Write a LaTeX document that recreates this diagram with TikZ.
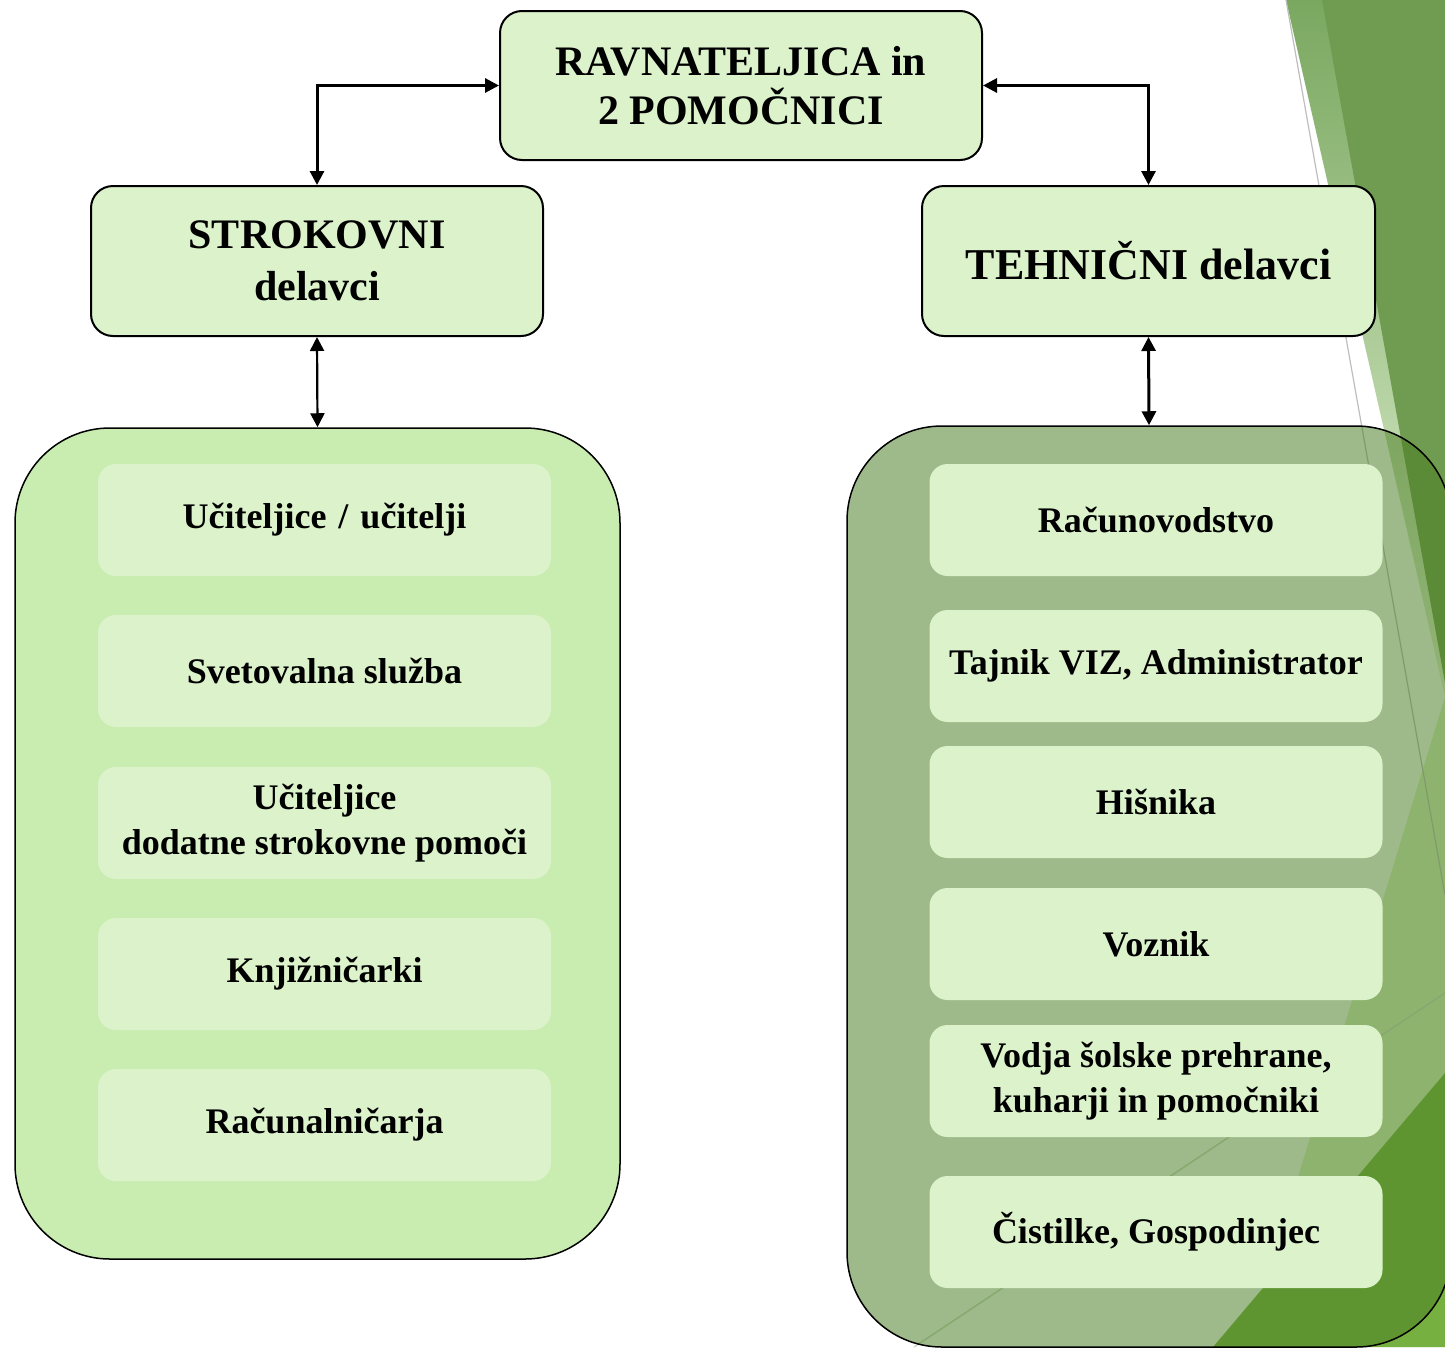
\documentclass[tikz,border=0pt]{standalone}
\usepackage{fontspec}
\setmainfont{Liberation Serif}
\usetikzlibrary{arrows.meta}
\definecolor{boxfill}{RGB}{219,242,203}
\definecolor{leftcont}{RGB}{201,237,176}
\definecolor{rightcont}{RGB}{74,125,34}
\definecolor{bgdark}{RGB}{111,156,80}
\definecolor{bglight}{RGB}{217,240,198}
\definecolor{bgstriptop}{RGB}{122,168,96}
\definecolor{bgstripbot}{RGB}{228,243,214}
\definecolor{bgbright}{RGB}{118,176,65}
\definecolor{bgline}{RGB}{190,190,190}
\definecolor{bglinetwo}{RGB}{205,218,198}
\begin{document}
\begin{tikzpicture}[x=1pt,y=-1pt,
  headbox/.style={draw=black, line width=2pt, fill=boxfill, rounded corners=22pt, inner sep=0pt, align=center},
  itembox/.style={fill=boxfill, rounded corners=18pt, minimum width=453pt, minimum height=112pt, inner sep=0pt, align=center, font=\fontsize{36}{45}\selectfont\bfseries},
  container/.style={draw=black, line width=1.5pt, rounded corners=95pt, inner sep=0pt},
  conn/.style={line width=3pt, {Triangle[length=14pt,width=14pt]}-{Triangle[length=14pt,width=14pt]}}
]
\useasboundingbox (0,0) rectangle (1445,1347);
\clip (0,0) rectangle (1445,1347);
\fill[white] (0,0) rectangle (1445,1347);
% background facets
\shade[top color=bgstriptop, bottom color=bgstripbot] (1286,0) -- (1445,0) -- (1445,697) -- cycle;
\fill[bglight] (1445,697) -- (1445,1347) -- (1246,1347) -- cycle;
\fill[bgdark] (1322,0) -- (1445,0) -- (1445,683) -- cycle;
\fill[bgbright] (1213,1347) -- (1445,1073) -- (1445,1347) -- cycle;
\draw[bgline, line width=1.2pt] (1286,0) -- (1445,895);
\draw[bglinetwo, line width=1.5pt] (914,1347) -- (1445,993);

% left container
\node[container, fill=leftcont, minimum width=605pt, minimum height=831pt] (lc) at (317.5,843.5) {};
\node[itembox] (l1) at (324.5,520) {Učiteljice\hspace{12pt}/\hspace{12pt}učitelji};
\node[itembox] (l2) at (324.5,671) {Svetovalna služba};
\node[itembox] (l3) at (324.5,823) {Učiteljice\\dodatne strokovne pomoči};
\node[itembox] (l4) at (324.5,974) {Knjižničarki};
\node[itembox] (l5) at (324.5,1125) {Računalničarja};

% right container
\node[container, fill=rightcont, fill opacity=0.53, minimum width=604pt, minimum height=921pt] (rc) at (1149,886.5) {};
\node[itembox] (r1) at (1156,520) {Računovodstvo};
\node[itembox] (r2) at (1156,666) {Tajnik VIZ, Administrator};
\node[itembox] (r3) at (1156,802) {Hišnika};
\node[itembox] (r4) at (1156,944) {Voznik};
\node[itembox] (r5) at (1156,1081) {Vodja šolske prehrane,\\kuharji in pomočniki};
\node[itembox] (r6) at (1156,1232) {Čistilke, Gospodinjec};

% header boxes
\node[headbox, minimum width=482pt, minimum height=149pt, font=\fontsize{42}{49}\selectfont\bfseries] (top) at (741,85.5) {RAVNATELJICA in\\2 POMOČNICI};
\node[headbox, minimum width=452pt, minimum height=150pt, font=\fontsize{42}{52}\selectfont\bfseries] (lh) at (317,261) {STROKOVNI\\delavci};
\node[headbox, minimum width=453pt, minimum height=150pt, font=\fontsize{44}{52}\selectfont\bfseries] (rh) at (1148.5,261) {TEHNIČNI delavci};

% connectors
\draw[conn] (top.west) -| (lh.north);
\draw[conn] (top.east) -| (rh.north);
\draw[conn, line width=2.2pt] (lh.south) -- (lc.north);
\draw[conn] (rh.south) -- (rc.north);
\end{tikzpicture}
\end{document}
